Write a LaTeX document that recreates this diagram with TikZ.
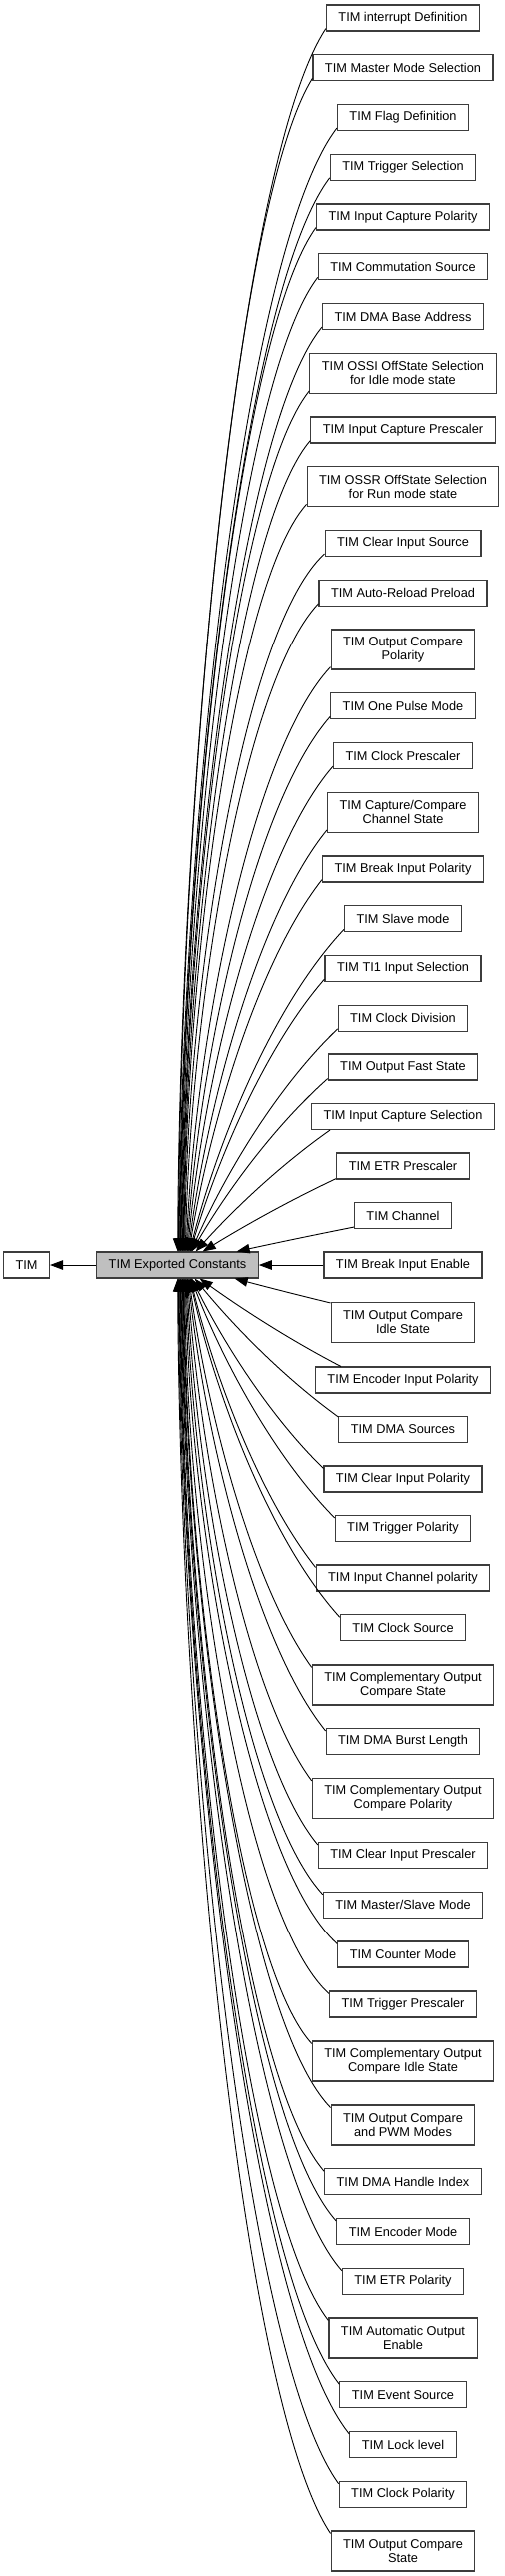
\documentclass[tikz,border=0pt]{standalone}
\usepackage{fontspec}
\setmainfont{Liberation Sans}
\usetikzlibrary{arrows.meta,calc}
\tikzset{
  box/.style={draw={rgb,255:red,60;green,60;blue,60}, line width=1.1pt, fill=white, inner xsep=12pt, inner ysep=0pt,
    minimum height=26pt, align=center, font=\fontsize{12.76}{14}\selectfont},
  dbox/.style={box, minimum height=40pt},
  grp/.style={box, fill={rgb,255:red,191;green,191;blue,191}},
  edge/.style={draw=black, line width=0.9pt, -{Triangle[length=13pt,width=9.5pt]}},
}
\newcommand\upedge[4]{\draw[edge] let \p1=($(#1.south west)+(#3,#4)$), \p2=($(c.north west)+(#2,0)$),
  \n1={\y1-\y2}, \n2={\x1-\x2}, \n3={min(1,\n1/700)} in
  (\p1) .. controls ({\x1-(0.3333+0.2567*\n3)*\n2},{\y1-(0.3333-0.2253*\n3)*\n1})
  and ({\x2+(0.3333-0.3203*\n3)*\n2},{\y2+(0.3333+0.0367*\n3)*\n1}) .. (\p2);}
\newcommand\downedge[4]{\draw[edge] let \p1=($(#1.north west)+(#3,#4)$), \p2=($(c.south west)+(#2,0)$),
  \n1={\y2-\y1}, \n2={\x1-\x2}, \n3={min(1,\n1/700)} in
  (\p1) .. controls ({\x1-(0.3333+0.2567*\n3)*\n2},{\y1+(0.3333-0.2253*\n3)*\n1})
  and ({\x2+(0.3333-0.3203*\n3)*\n2},{\y2-(0.3333+0.0367*\n3)*\n1}) .. (\p2);}
\begin{document}
\begin{tikzpicture}[x=1pt,y=-1pt]
\useasboundingbox (0,0) rectangle (505,2578);
\node[box] (tim) at (26.5,1266) {TIM};
\node[grp] (c) at (177.5,1266) {TIM Exported Constants};
\node[box] (n1) at (403,18) {TIM interrupt Definition};
\node[box] (n2) at (403,67.8) {TIM Master Mode Selection};
\node[box] (n3) at (403,117.5) {TIM Flag Definition};
\node[box] (n4) at (403,167.3) {TIM Trigger Selection};
\node[box] (n5) at (403,217) {TIM Input Capture Polarity};
\node[box] (n6) at (403,266.8) {TIM Commutation Source};
\node[box] (n7) at (403,316.5) {TIM DMA Base Address};
\node[dbox] (n8) at (403,373.3) {TIM OSSI OffState Selection\\for Idle mode state};
\node[box] (n9) at (403,430) {TIM Input Capture Prescaler};
\node[dbox] (n10) at (403,486.8) {TIM OSSR OffState Selection\\for Run mode state};
\node[box] (n11) at (403,543.5) {TIM Clear Input Source};
\node[box] (n12) at (403,593.3) {TIM Auto-Reload Preload};
\node[dbox] (n13) at (403,650) {TIM Output Compare\\Polarity};
\node[box] (n14) at (403,706.8) {TIM One Pulse Mode};
\node[box] (n15) at (403,756.5) {TIM Clock Prescaler};
\node[dbox] (n16) at (403,813.3) {TIM Capture/Compare\\Channel State};
\node[box] (n17) at (403,870) {TIM Break Input Polarity};
\node[box] (n18) at (403,919.8) {TIM Slave mode};
\node[box] (n19) at (403,969.5) {TIM TI1 Input Selection};
\node[box] (n20) at (403,1019.3) {TIM Clock Division};
\node[box] (n21) at (403,1068) {TIM Output Fast State};
\node[box] (n22) at (403,1117.5) {TIM Input Capture Selection};
\node[box] (n23) at (403,1167) {TIM ETR Prescaler};
\node[box] (n24) at (403,1216.5) {TIM Channel};
\node[box] (n25) at (403,1266) {TIM Break Input Enable};
\node[dbox] (n26) at (403,1323.5) {TIM Output Compare\\Idle State};
\node[box] (n27) at (403,1381) {TIM Encoder Input Polarity};
\node[box] (n28) at (403,1430.5) {TIM DMA Sources};
\node[box] (n29) at (403,1480) {TIM Clear Input Polarity};
\node[box] (n30) at (403,1529.5) {TIM Trigger Polarity};
\node[box] (n31) at (403,1579) {TIM Input Channel polarity};
\node[box] (n32) at (403,1628.8) {TIM Clock Source};
\node[dbox] (n33) at (403,1686) {TIM Complementary Output\\Compare State};
\node[box] (n34) at (403,1742.5) {TIM DMA Burst Length};
\node[dbox] (n35) at (403,1799.5) {TIM Complementary Output\\Compare Polarity};
\node[box] (n36) at (403,1856.5) {TIM Clear Input Prescaler};
\node[box] (n37) at (403,1906.3) {TIM Master/Slave Mode};
\node[box] (n38) at (403,1956) {TIM Counter Mode};
\node[box] (n39) at (403,2006) {TIM Trigger Prescaler};
\node[dbox] (n40) at (403,2063) {TIM Complementary Output\\Compare Idle State};
\node[dbox] (n41) at (403,2127) {TIM Output Compare\\and PWM Modes};
\node[box] (n42) at (403,2183.8) {TIM DMA Handle Index};
\node[box] (n43) at (403,2233.5) {TIM Encoder Mode};
\node[box] (n44) at (403,2283.3) {TIM ETR Polarity};
\node[dbox] (n45) at (403,2340) {TIM Automatic Output\\Enable};
\node[box] (n46) at (403,2396.8) {TIM Event Source};
\node[box] (n47) at (403,2446.5) {TIM Lock level};
\node[box] (n48) at (403,2496.3) {TIM Clock Polarity};
\node[dbox] (n49) at (403,2553) {TIM Output Compare\\State};
% straight connectors
\draw[edge] (c.west) -- (tim.east);
\draw[edge] (n25.west) -- (c.east);
% upper connectors
\upedge{n1}{81.5}{0}{-3}
\upedge{n2}{82.2}{0}{-3}
\upedge{n3}{82.9}{0}{-3}
\upedge{n4}{83.6}{0}{-3}
\upedge{n5}{84.3}{0}{-3}
\upedge{n6}{85}{0}{-3}
\upedge{n7}{85.7}{0}{-3}
\upedge{n8}{86.4}{0}{-3}
\upedge{n9}{87.1}{0}{-3}
\upedge{n10}{87.8}{0}{-3}
\upedge{n11}{88.5}{0}{-3}
\upedge{n12}{89.2}{0}{-3}
\upedge{n13}{89.9}{0}{-3}
\upedge{n14}{90.6}{0}{-3}
\upedge{n15}{91.3}{0}{-3}
\upedge{n16}{92}{0}{-3}
\upedge{n17}{92.7}{0}{-3}
\upedge{n18}{93.4}{0}{-3}
\upedge{n19}{94.1}{0}{-3}
\upedge{n20}{94.8}{0}{-3}
\upedge{n21}{95.5}{0}{-2}
\upedge{n22}{99.5}{19}{0}
\upedge{n23}{106.5}{0}{-1}
\upedge{n24}{140.5}{0}{-2}
% lower connectors
\downedge{n26}{138.5}{0}{1}
\downedge{n27}{103.5}{26}{0}
\downedge{n28}{98.5}{0}{1}
\downedge{n29}{95.5}{0}{3}
\downedge{n30}{94.8}{0}{3}
\downedge{n31}{94.1}{0}{3}
\downedge{n32}{93.4}{0}{3}
\downedge{n33}{92.7}{0}{3}
\downedge{n34}{92}{0}{3}
\downedge{n35}{91.3}{0}{3}
\downedge{n36}{90.6}{0}{3}
\downedge{n37}{89.9}{0}{3}
\downedge{n38}{89.2}{0}{3}
\downedge{n39}{88.5}{0}{3}
\downedge{n40}{87.8}{0}{3}
\downedge{n41}{87.1}{0}{3}
\downedge{n42}{86.4}{0}{3}
\downedge{n43}{85.7}{0}{3}
\downedge{n44}{85}{0}{3}
\downedge{n45}{84.3}{0}{3}
\downedge{n46}{83.6}{0}{3}
\downedge{n47}{82.9}{0}{3}
\downedge{n48}{82.2}{0}{3}
\downedge{n49}{81.5}{0}{3}
\end{tikzpicture}
\end{document}
